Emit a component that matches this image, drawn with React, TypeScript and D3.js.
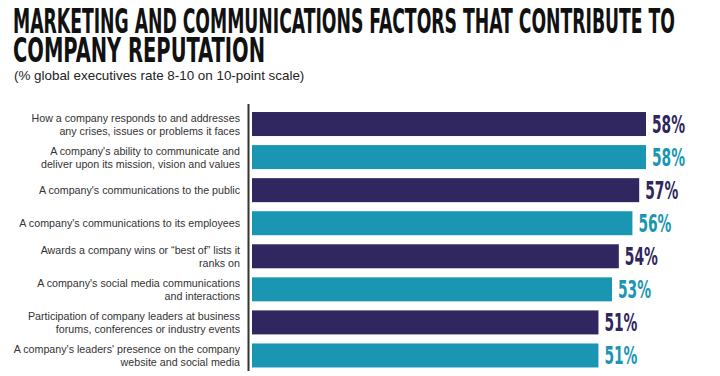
import React from "react";
import * as d3 from "d3";

const categories: string[] = [
  "How a company responds to and addresses\nany crises, issues or problems it faces",
  "A company's ability to communicate and\ndeliver upon its mission, vision and values",
  "A company's communications to the public",
  "A company's communications to its employees",
  "Awards a company wins or \u201cbest of\u201d lists it\nranks on",
  "A company's social media communications\nand interactions",
  "Participation of company leaders at business\nforums, conferences or industry events",
  "A company's leaders' presence on the company\nwebsite and social media",
];
const values: number[] = [58, 58, 57, 56, 54, 53, 51, 51];
const colors: string[] = ["#302660", "#1a96b2"];
const titleLines: string[] = [
  "MARKETING AND COMMUNICATIONS FACTORS THAT CONTRIBUTE TO",
  "COMPANY REPUTATION",
];
const subtitle = "(% global executives rate 8-10 on 10-point scale)";

export default function App() {
  const W = 720;
  const H = 376;
  const x = d3.scaleLinear().domain([0, 58]).range([252, 646]);
  const y = d3
    .scaleBand<number>()
    .domain(d3.range(categories.length))
    .range([107.5, 372])
    .paddingInner(0.274)
    .paddingOuter(0.137);
  const bw = y.bandwidth();
  const condensed = "'DejaVu Sans Condensed', 'DejaVu Sans', sans-serif";
  const sans = "'Liberation Sans', Arial, sans-serif";
  return (
    <svg
      width={W}
      height={H}
      viewBox={`0 0 ${W} ${H}`}
      style={{ position: "absolute", left: 0, top: 0, background: "#fff" }}
    >
      <text
        x={13}
        y={33}
        fontFamily={condensed}
        fontWeight="bold"
        fontSize={33}
        fill="#111"
        textLength={662}
        lengthAdjust="spacingAndGlyphs"
      >
        {titleLines[0]}
      </text>
      <text
        x={13}
        y={62}
        fontFamily={condensed}
        fontWeight="bold"
        fontSize={33}
        fill="#111"
        textLength={252}
        lengthAdjust="spacingAndGlyphs"
      >
        {titleLines[1]}
      </text>
      <text x={14} y={80} fontFamily={sans} fontSize={13.4} fill="#222">
        {subtitle}
      </text>
      <line x1={248.5} x2={248.5} y1={104} y2={371} stroke="#333" strokeWidth={2} />
      {categories.map((c, i) => {
        const top = y(i)!;
        const cy = top + bw / 2;
        const lines = c.split("\n");
        const color = colors[i % 2];
        return (
          <g key={i}>
            <rect x={x(0)} y={top} width={x(values[i]) - x(0)} height={bw} fill={color} />
            {lines.map((l, j) => (
              <text
                key={j}
                x={240}
                y={lines.length === 1 ? cy + 4 : cy - 2.5 + j * 13.3}
                textAnchor="end"
                fontFamily={sans}
                fontSize={10.7}
                fill="#333"
              >
                {l}
              </text>
            ))}
            <text
              x={x(values[i]) + 6}
              y={cy + 9}
              fontFamily={condensed}
              fontWeight="bold"
              fontSize={24}
              fill={color}
              textLength={33}
              lengthAdjust="spacingAndGlyphs"
            >
              {values[i] + "%"}
            </text>
          </g>
        );
      })}
    </svg>
  );
}
